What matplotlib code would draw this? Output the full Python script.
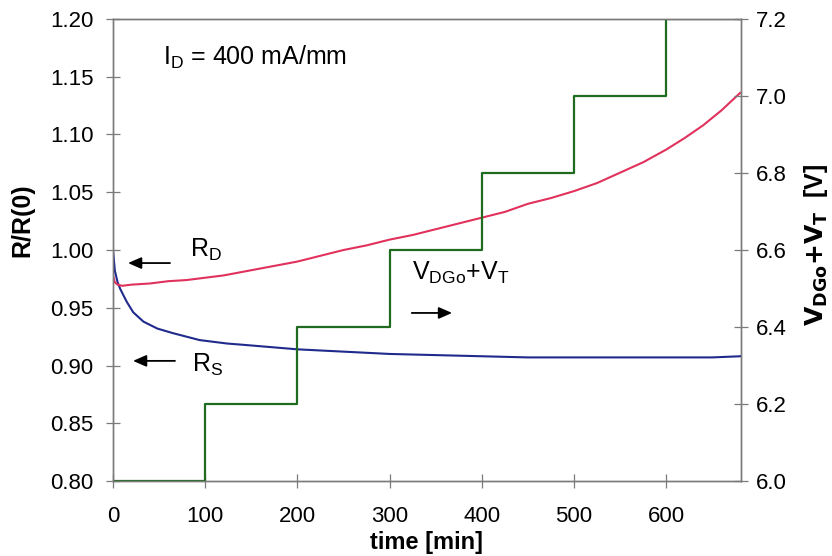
import matplotlib
matplotlib.use("Agg")
import matplotlib.pyplot as plt

plt.rcParams['font.family'] = ['Liberation Sans', 'DejaVu Sans']
plt.rcParams['mathtext.default'] = 'regular'

# drain resistance ratio R_D/R_D(0)
t_rd = [0, 2, 5, 10, 20, 40, 60, 80, 100, 120, 140, 160, 180, 200, 225, 250, 275,
        300, 325, 350, 375, 400, 425, 450, 475, 500, 525, 550, 575, 600, 620,
        640, 660, 680]
rd = [0.978, 0.972, 0.970, 0.969, 0.970, 0.971, 0.973, 0.974, 0.976, 0.978,
      0.981, 0.984, 0.987, 0.990, 0.995, 1.000, 1.004, 1.009, 1.013, 1.018,
      1.023, 1.028, 1.033, 1.040, 1.045, 1.051, 1.058, 1.067, 1.076, 1.087,
      1.097, 1.108, 1.121, 1.136]

# source resistance ratio R_S/R_S(0)
t_rs = [0, 2, 5, 8, 15, 22, 33, 48, 65, 94, 124, 140, 170, 200, 250, 300, 350,
        400, 450, 500, 550, 600, 650, 680]
rs = [1.000, 0.982, 0.972, 0.966, 0.955, 0.946, 0.938, 0.932, 0.928, 0.922,
      0.919, 0.918, 0.916, 0.914, 0.912, 0.910, 0.909, 0.908, 0.907, 0.907,
      0.907, 0.907, 0.907, 0.908]

# stress voltage steps V_DGo + V_T
t_v = [0, 100, 200, 300, 400, 500, 600, 680]
v = [6.0, 6.2, 6.4, 6.6, 6.8, 7.0, 7.2, 7.2]

x_ticks = [0, 100, 200, 300, 400, 500, 600]
y_ticks = [0.80, 0.85, 0.90, 0.95, 1.00, 1.05, 1.10, 1.15, 1.20]
v_ticks = [6.0, 6.2, 6.4, 6.6, 6.8, 7.0, 7.2]

FS = 16
FA = 18
SPINE = '#7a7a7a'

fig = plt.figure(figsize=(8.32, 5.56), dpi=100)
ax = fig.add_axes([113/832, 1-481/556, 628/832, 462/556])
ax2 = ax.twinx()

ax.plot(t_rs, rs, color='#1f2a8c', lw=1.5, zorder=3)
ax.plot(t_rd, rd, color='#e0325c', lw=1.5, zorder=4)
ax2.step(t_v, v, where='post', color='#1f6b1f', lw=1.6)

ax.set_xlim(0, 681)
ax.set_ylim(0.80, 1.20)
ax2.set_ylim(6.0, 7.2)

ax.set_xticks(x_ticks)
ax.set_yticks(y_ticks)
ax.set_yticklabels([f'{y:.2f}' for y in y_ticks])
ax2.set_yticks(v_ticks)
ax2.set_yticklabels([f'{y:.1f}' for y in v_ticks])

for a in (ax, ax2):
    for s in a.spines.values():
        s.set_color(SPINE)
        s.set_linewidth(1.0)
ax.tick_params(axis='y', direction='inout', length=10, width=0.9, color=SPINE,
               labelsize=FS, pad=9)
ax.tick_params(axis='x', direction='inout', length=10, width=0.9, color=SPINE,
               labelsize=FS, pad=13)
ax2.tick_params(axis='y', direction='inout', length=10, width=0.9, color=SPINE,
                labelsize=FS, pad=6)

fig.text(22/832, 1-220/556, 'R/R(0)', rotation=90, ha='center', va='center',
         fontsize=18, fontweight='bold')
fig.text(816/832, 1-245/556, r'$\mathbf{V_{DGo}{+}V_T}$  [V]', rotation=90,
         ha='center', va='center', fontsize=18, fontweight='bold')
fig.text(427/832, 1-543/556, 'time [min]', ha='center', va='center',
         fontsize=17, fontweight='bold')

ax.text(54, 1.167, r'$I_D$ = 400 mA/mm', fontsize=FA, va='center', ha='left')
ax.text(83.5, 1.0, r'$R_D$', fontsize=FA, va='center', ha='left')
ax.text(85.7, 0.9004, r'$R_S$', fontsize=FA, va='center', ha='left')
ax.text(324, 0.980, r'$V_{DGo}$+$V_T$', fontsize=FA, va='center', ha='left')

arrow = dict(arrowstyle='-|>,head_length=0.8,head_width=0.35', color='black', lw=1.3,
             shrinkA=0, shrinkB=0)
ax.annotate('', xy=(16.3, 0.9887), xytext=(61.8, 0.9887), arrowprops=arrow)
ax.annotate('', xy=(21.7, 0.904), xytext=(67.2, 0.904), arrowprops=arrow)
ax.annotate('', xy=(367.7, 0.9455), xytext=(324, 0.9455), arrowprops=arrow)

fig.savefig('out.png', dpi=100)
